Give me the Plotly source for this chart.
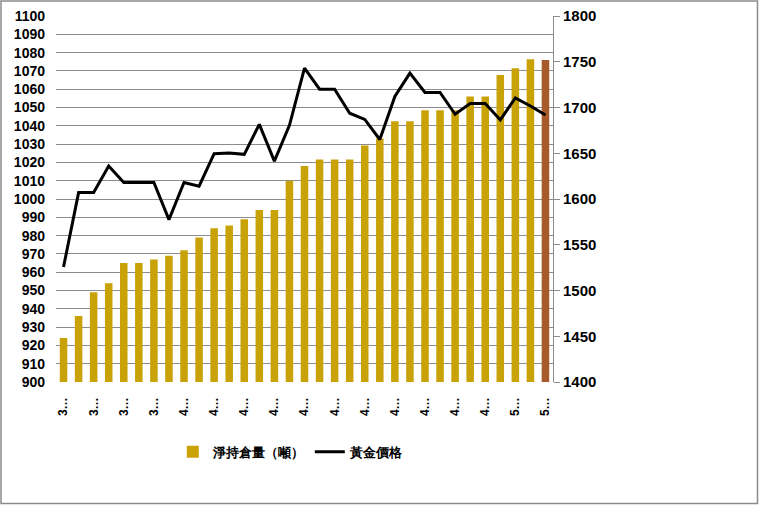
import plotly.graph_objects as go

# Data
positions = list(range(33))
tick_labels = ["3…", "3…", "3…", "3…", "4…", "4…", "4…", "4…", "4…", "4…",
               "4…", "4…", "4…", "4…", "4…", "5…", "5…"]
holdings = [924, 936, 949, 954, 965, 965, 967, 969, 972, 979, 984, 985.5, 989, 994, 994,
            1010, 1018, 1021.6, 1021.6, 1021.6, 1029.3, 1033, 1042.5, 1042.5, 1048.5,
            1048.5, 1048.5, 1056, 1056, 1067.7, 1071.5, 1076.4, 1075.9]
gold_price = [1525.7, 1607, 1607, 1636, 1618, 1618, 1618, 1577.5, 1618, 1614, 1649.5,
              1650.3, 1648.8, 1681.6, 1641.4, 1680.5, 1743, 1720, 1720, 1693.7, 1687,
              1665, 1712, 1737.5, 1716.4, 1716.4, 1692.6, 1704.3, 1704.3, 1686.4,
              1710.5, 1701.7, 1691.8]
series_names = ["淨持倉量（噸）", "黃金價格"]

bar_colors = ["#C9A208"] * (len(holdings) - 1) + ["#A85B2A"]

W, H = 759, 505
L, R, T, B = 56, 553, 16, 382

fig = go.Figure()
fig.add_trace(go.Bar(
    x=positions, y=holdings, name=series_names[0],
    marker=dict(color=bar_colors, line=dict(width=0)),
    yaxis="y",
))
fig.add_trace(go.Scatter(
    x=positions, y=gold_price, name=series_names[1], mode="lines",
    line=dict(color="black", width=3),
    yaxis="y2",
))

font_family = "Liberation Sans, Arial, sans-serif"

fig.update_layout(
    width=W, height=H, autosize=False,
    margin=dict(l=L, r=W - R, t=T, b=H - B, pad=0, autoexpand=False),
    paper_bgcolor="white", plot_bgcolor="white",
    bargap=0.5,
    showlegend=True,
    legend=dict(orientation="h", x=0.235, y=-0.15, xanchor="left", yanchor="top",
                font=dict(family=font_family, size=13, color="black", weight="bold"),
                itemwidth=30, traceorder="normal"),
    xaxis=dict(
        range=[-0.5, 32.5], tickmode="array", automargin=False,
        tickvals=positions[::2], ticktext=tick_labels,
        tickangle=-90, showgrid=False, zeroline=False, showline=False,
        ticks="", ticklabelstandoff=12,
        tickfont=dict(family=font_family, size=12, color="black", weight="bold"),
    ),
    yaxis=dict(
        range=[900, 1100], dtick=10, tick0=900, showgrid=True, automargin=False,
        gridcolor="#8C8C8C", gridwidth=1, zeroline=False, showline=False,
        ticks="", ticklen=0, ticklabelstandoff=10,
        tickfont=dict(family=font_family, size=14, color="black", weight="bold"),
    ),
    yaxis2=dict(
        range=[1400, 1800], dtick=50, tick0=1400, overlaying="y", side="right",
        automargin=False,
        showgrid=False, zeroline=False, showline=True, linecolor="#8C8C8C", linewidth=1,
        ticks="outside", ticklen=6, tickcolor="#8C8C8C",
        tickfont=dict(family=font_family, size=15, color="black", weight="bold"),
    ),
)

# Outer border of the chart
pw, ph = R - L, B - T
def px_x(v):
    return (v - L) / pw
def px_y(v):
    return (B - v) / ph
fig.add_shape(type="rect", xref="paper", yref="paper",
              x0=px_x(1), x1=px_x(757.5), y0=px_y(503.5), y1=px_y(1),
              line=dict(color="#8C8C8C", width=1.5), fillcolor="rgba(0,0,0,0)", layer="below")

fig.write_html("out.html", config={"displayModeBar": False},
               post_script="document.body.style.margin='0';")
